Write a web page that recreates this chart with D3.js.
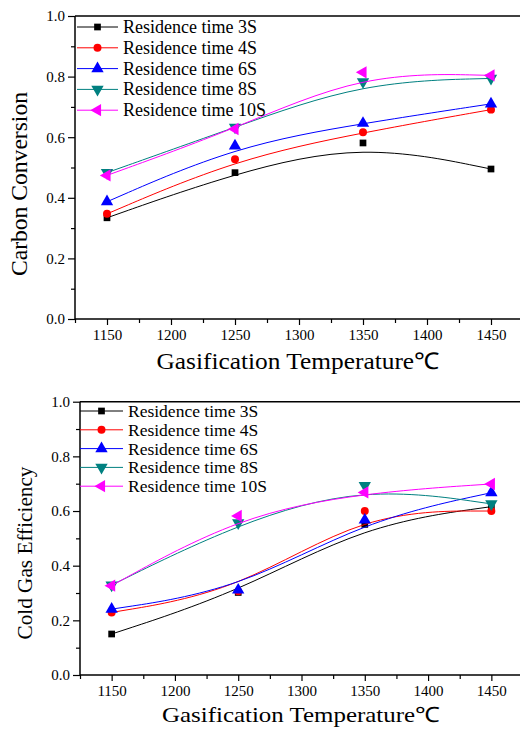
<!DOCTYPE html>
<html>
<head>
<meta charset="utf-8">
<script src="https://cdn.jsdelivr.net/npm/d3@7"></script>
<style>
  body { margin: 0; background: #fff; }
  svg { display: block; }
  text { font-family: "Liberation Serif", "Times New Roman", serif; fill: #000; }
</style>
</head>
<body>
<svg id="chart" width="520" height="729"></svg>
<script>
// x values (gasification temperature, deg C)
var temps = [1150, 1250, 1350, 1450];
var seriesNames = ["Residence time 3S", "Residence time 4S", "Residence time 6S", "Residence time 8S", "Residence time 10S"];
var seriesColors = ["#000000", "#ff0000", "#0000ff", "#008080", "#ff00ff"];
var seriesMarkers = ["square", "circle", "up", "down", "left"];

// carbon conversion
var cc3  = [0.334, 0.483, 0.581, 0.495];
var cc4  = [0.347, 0.527, 0.616, 0.691];
var cc6  = [0.387, 0.571, 0.646, 0.710];
var cc8  = [0.483, 0.633, 0.783, 0.794];
var cc10 = [0.474, 0.627, 0.814, 0.804];

// cold gas efficiency
var cge3  = [0.150, 0.302, 0.551, 0.616];
var cge4  = [0.229, 0.306, 0.600, 0.600];
var cge6  = [0.241, 0.311, 0.567, 0.667];
var cge8  = [0.329, 0.557, 0.693, 0.626];
var cge10 = [0.327, 0.582, 0.668, 0.699];

var xMajor = [1150, 1200, 1250, 1300, 1350, 1400, 1450];
var xMinor = [1125, 1175, 1225, 1275, 1325, 1375, 1425, 1475];
var yMajor = [0, 0.2, 0.4, 0.6, 0.8, 1.0];
var yMinor = [0.1, 0.3, 0.5, 0.7, 0.9];

var svg = d3.select("#chart");

function marker(sel, type, color) {
  var sym, size, rot = 0;
  if (type == "square") { sym = d3.symbolSquare; size = 45; }
  else if (type == "circle") { sym = d3.symbolCircle; size = 50; }
  else { sym = d3.symbolTriangle; size = 66;
    if (type == "down") rot = 180;
    if (type == "left") rot = -90; }
  sel.append("path")
    .attr("d", d3.symbol().type(sym).size(size))
    .attr("transform", function(d){ return "translate(" + d[0] + "," + d[1] + ") rotate(" + rot + ")"; })
    .style("fill", color);
}

function drawPanel(opt) {
  var g = svg.append("g");
  var x = d3.scaleLinear().domain([1125, 1475]).range([opt.left, opt.right]);
  var y = d3.scaleLinear().domain([0, 1]).range([opt.bottom, opt.top]);

  // frame
  g.append("line").attr("x1", opt.left).attr("x2", opt.right).attr("y1", opt.top).attr("y2", opt.top)
    .style("stroke", "#000").style("stroke-width", 1.5);
  g.append("line").attr("x1", opt.right).attr("x2", opt.right).attr("y1", opt.top).attr("y2", opt.bottom)
    .style("stroke", "#000").style("stroke-width", 1.5);

  // axes
  var xAxis = g.append("g").attr("transform", "translate(0," + opt.bottom + ")")
    .call(d3.axisBottom(x).tickValues(xMajor).tickSize(6).tickPadding(4).tickFormat(d3.format("d")));
  g.append("g").attr("transform", "translate(0," + opt.bottom + ")")
    .call(d3.axisBottom(x).tickValues(xMinor).tickSize(4).tickFormat(""))
    .select(".domain").remove();
  var yAxis = g.append("g").attr("transform", "translate(" + opt.left + ",0)")
    .call(d3.axisLeft(y).tickValues(yMajor).tickSize(7).tickPadding(3).tickFormat(d3.format(".1f")));
  g.append("g").attr("transform", "translate(" + opt.left + ",0)")
    .call(d3.axisLeft(y).tickValues(yMinor).tickSize(4).tickFormat(""))
    .select(".domain").remove();
  xAxis.select(".domain").attr("d", "M" + opt.left + ",0H" + opt.right);
  yAxis.select(".domain").attr("d", "M0," + opt.top + "V" + opt.bottom);
  g.selectAll(".domain").style("stroke-width", 1.5);
  g.selectAll(".tick line").style("stroke-width", 1.2);
  g.selectAll(".tick text").style("font-size", "15px").style("font-family", "Liberation Serif");

  // series
  var line = d3.line()
    .x(function(d){ return x(d[0]); })
    .y(function(d){ return y(d[1]); })
    .curve(d3.curveBasis);

  opt.data.forEach(function(vals, i) {
    var pts = temps.map(function(t, j){ return [t, vals[j]]; });
    g.append("path").datum(pts)
      .attr("d", line)
      .style("fill", "none")
      .style("stroke", seriesColors[i])
      .style("stroke-width", 1);
    var m = g.append("g").selectAll("g").data(pts.map(function(p){ return [x(p[0]), y(p[1])]; }))
      .enter().append("g");
    marker(m, seriesMarkers[i], seriesColors[i]);
  });

  // legend
  var lg = g.append("g");
  seriesNames.forEach(function(name, i) {
    var ly = opt.legY + i * opt.legStep;
    lg.append("line").attr("x1", opt.legX).attr("x2", opt.legX + opt.legLen)
      .attr("y1", ly).attr("y2", ly)
      .style("stroke", seriesColors[i]).style("stroke-width", 1);
    var m = lg.append("g").selectAll("g").data([[opt.legX + opt.legLen / 2, ly]]).enter().append("g");
    marker(m, seriesMarkers[i], seriesColors[i]);
    lg.append("text").attr("x", opt.legX + opt.legLen + 5).attr("y", ly + 6)
      .style("font-size", opt.legFont + "px")
      .text(name);
  });

  // axis titles
  g.append("text")
    .attr("transform", "translate(" + opt.yTitleX + "," + opt.yTitleY + ") rotate(-90)")
    .attr("text-anchor", "middle")
    .attr("textLength", opt.yTitleLen)
    .attr("lengthAdjust", "spacingAndGlyphs")
    .style("font-size", opt.titleFont + "px")
    .text(opt.yTitle);
  g.append("text")
    .attr("x", opt.xTitleX).attr("y", opt.xTitleY)
    .attr("text-anchor", "middle")
    .attr("textLength", opt.xTitleLen)
    .attr("lengthAdjust", "spacingAndGlyphs")
    .style("font-size", opt.titleFont + "px")
    .text("Gasification Temperature℃");
}

drawPanel({
  left: 75, right: 523, top: 16, bottom: 319,
  data: [cc3, cc4, cc6, cc8, cc10],
  legX: 77, legLen: 41, legY: 27, legStep: 20.8, legFont: 18,
  yTitle: "Carbon Conversion", yTitleX: 27, yTitleY: 184, yTitleLen: 184,
  xTitleX: 298, xTitleY: 369, xTitleLen: 283, titleFont: 23
});

drawPanel({
  left: 80, right: 523, top: 401.7, bottom: 675,
  data: [cge3, cge4, cge6, cge8, cge10],
  legX: 80, legLen: 43, legY: 411, legStep: 18.8, legFont: 17.5,
  yTitle: "Cold Gas Efficiency", yTitleX: 32, yTitleY: 553, yTitleLen: 173,
  xTitleX: 301, xTitleY: 722, xTitleLen: 278, titleFont: 21
});
</script>
</body>
</html>
